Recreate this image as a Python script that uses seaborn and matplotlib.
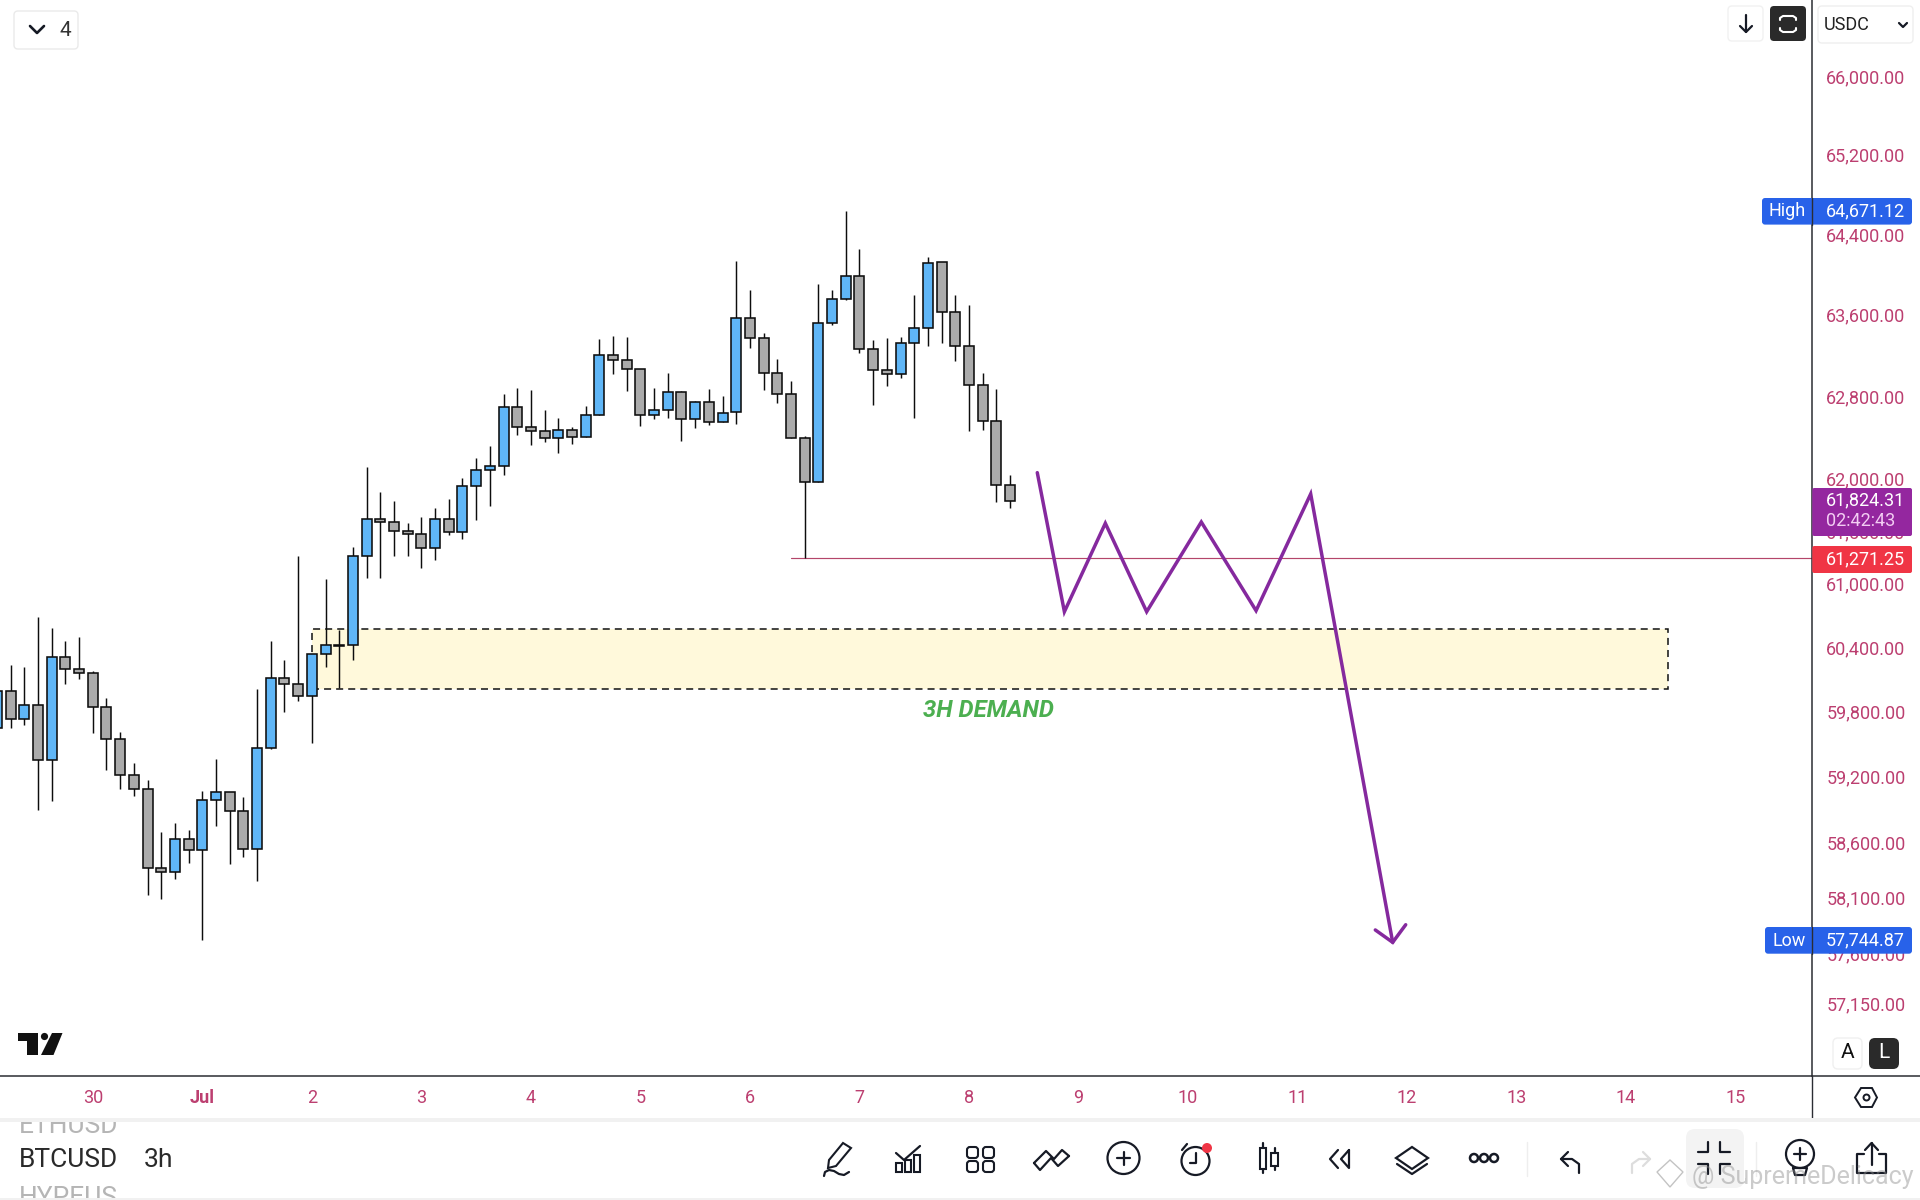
import numpy as np
import pandas as pd
import matplotlib
matplotlib.use("Agg")
import matplotlib.pyplot as plt
import seaborn as sns
from matplotlib.patches import Circle, FancyBboxPatch, Polygon, Rectangle
from matplotlib.ticker import NullLocator
from matplotlib.transforms import ScaledTranslation

# 3h candles
high = [60021, 60267, 60248, 60717, 60614, 60492, 60529, 60210, 59959, 59640, 59357, 59200, 58724, 58806, 58743,
        59099, 59394, 59087, 59044, 60042, 60492, 60313, 61295, 60366, 61077, 60595, 61381, 62151, 61907, 61821,
        61607, 61667, 61753, 61837, 62042, 62232, 62351, 62856, 62915, 62895, 62700, 62622, 62535, 62739, 63395,
        63424, 63415, 63097, 62915, 63061, 62885, 62788, 62905, 62836, 64167, 63879, 63454, 63198, 62983, 62447,
        63938, 63879, 64671.12, 64287, 63385, 63405, 63415, 63829, 64204, 64154, 63829, 63730, 63061, 62905, 62071]
body_top = [60021, 60021, 59890, 59890, 60338, 60338, 60226, 60189, 59872, 59575, 59243, 59115, 58394, 58658, 58658,
            59014, 59087, 59087, 58913, 59492, 60142, 60142, 60086, 60366, 60451, 60451, 61292, 61645, 61645, 61616,
            61530, 61502, 61645, 61645, 61962, 62116, 62154, 62726, 62726, 62532, 62493, 62503, 62503, 62648, 63235,
            63235, 63186, 63097, 62697, 62873, 62873, 62775, 62775, 62668, 63599, 63599, 63402, 63058, 62853, 62425,
            63550, 63787, 64015, 64015, 63294, 63088, 63353, 63500, 64144, 64154, 63658, 63323, 62941, 62590, 61971]
body_bottom = [59677, 59760, 59760, 59381, 59381, 60226, 60189, 59872, 59575, 59243, 59115, 58400, 58358, 58358, 58557,
               58557, 59014, 58913, 58567, 58567, 59492, 60086, 59974, 59974, 60366, 60448, 60451, 61292, 61616, 61530,
               61502, 61368, 61368, 61521, 61521, 61962, 62116, 62154, 62532, 62493, 62425, 62425, 62435, 62435, 62648,
               63186, 63097, 62648, 62648, 62697, 62610, 62610, 62580, 62580, 62678, 63402, 63058, 62853, 62425, 62000,
               62000, 63550, 63787, 63294, 63088, 63048, 63048, 63353, 63500, 63658, 63323, 62941, 62590, 61971, 61818]
low = [59677, 59680, 59708, 58925, 59008, 60089, 60136, 59634, 59292, 59118, 59053, 58153, 58117, 58300, 58442,
       57744.87, 58779, 58436, 58497, 58282, 59483, 59828, 59931, 59541, 60248, 60049, 60310, 61089, 61089, 61298,
       61298, 61184, 61260, 61498, 61457, 61641, 61775, 62071, 62457, 62360, 62392, 62280, 62370, 62435, 62648,
       63051, 62885, 62544, 62612, 62622, 62399, 62525, 62554, 62580, 62564, 63306, 62895, 62768, 62425, 61271.25,
       62000, 63530, 63777, 63257, 62749, 62934, 63012, 62622, 63326, 63356, 63179, 62496, 62506, 61811, 61753]
direction = list("ugugu" "gggggggg" "ug" "uu" "gg" "uu" "gg" "uuuuu" "gggg" "u" "g" "uuuu" "ggg" "u" "g" "uu" "ggg"
                 "uu" "g" "u" "g" "uu" "ggggg" "uuu" "ggg" "uuu" "gggggg")

# drawing on the chart
path_x = [75.99, 77.97, 80.96, 83.98, 87.97, 91.97, 95.96, 101.95]
path_price = [62093, 60767, 61607, 60767, 61619, 60777, 61888, 57727]
head_x = [100.68, 101.95, 102.9]
head_price = [57838, 57727, 57885]
zone_start, zone_end = 23, 122.04
zone_low, zone_high = 60040, 60601
zone_label = "3H DEMAND"
zone_label_x, zone_label_price = 72.4, 59846
last_low_price = 61271.25
last_low_start = 58.03

# axes
price_ticks = [57150, 57600, 58100, 58600, 59200, 59800, 60400, 61000, 61500, 62000, 62800, 63600, 64400, 65200, 66000]
day_labels = ["30", "Jul", "2", "3", "4", "5", "6", "7", "8", "9", "10", "11", "12", "13", "14", "15"]
day_ticks = [7 + 8 * n for n in range(len(day_labels))]
price_limits = (56539, 66820)
bar_limits = (0.222, 132.6)

PINK = "#BC3F70"
BLUE = "#5FB6F7"
GREY = "#ABABAB"
INK = "#161A25"
PURPLE = "#85299E"
RULE = "#2B2D33"

sns.set_theme(style="white")
plt.rcParams["font.family"] = ["Roboto", "DejaVu Sans"]

df = pd.DataFrame({"high": high, "top": body_top, "bottom": body_bottom, "low": low, "dir": direction})
df["bar"] = np.arange(len(df))

W, H = 1920, 1200
PANE_R, PANE_B = 1812.3, 1076.3
fig = plt.figure(figsize=(W / 100, H / 100), dpi=100, facecolor="white")
ax = fig.add_axes([0, 1 - PANE_B / H, PANE_R / W, PANE_B / H])
ax.set_yscale("log")
ax.set_xlim(*bar_limits)
ax.set_ylim(*price_limits)

ax.add_patch(Rectangle((zone_start, zone_low), zone_end - zone_start, zone_high - zone_low,
                       facecolor="#FFF9DB", edgecolor="#111111", lw=1.1, ls=(0, (4.6, 3.3)), zorder=1))
ax.plot([last_low_start, bar_limits[1]], [last_low_price, last_low_price], color="#B4456A", lw=0.85, zorder=2)

ax.vlines(df["bar"], df["low"], df["high"], color="#0D0D0D", lw=1.05, zorder=3)
ax.bar(df["bar"], df["top"] - df["bottom"], bottom=df["bottom"], width=0.73,
       color=[BLUE if d == "u" else GREY for d in df["dir"]], edgecolor="#0D0D0D", linewidth=1.15, zorder=4)

sns.lineplot(x=path_x, y=path_price, sort=False, estimator=None, color=PURPLE, lw=2.5, ax=ax, zorder=5,
             solid_joinstyle="miter")
sns.lineplot(x=head_x, y=head_price, sort=False, estimator=None, color=PURPLE, lw=2.5, ax=ax, zorder=5,
             solid_joinstyle="miter")
ax.text(zone_label_x, zone_label_price, zone_label, color="#4CAF50", fontsize=17.2, fontweight="bold",
        fontstyle="italic", ha="center", va="center", zorder=6)

ax.yaxis.tick_right()
ax.set_yticks(price_ticks)
ax.set_yticklabels([f"{p:,.2f}" for p in price_ticks])
ax.yaxis.set_minor_locator(NullLocator())
ax.set_xticks(day_ticks)
ax.set_xticklabels(day_labels)
ax.tick_params(axis="y", length=0, pad=10, labelsize=13, labelcolor=PINK)
ax.tick_params(axis="x", length=0, pad=9.5, labelsize=13, labelcolor=PINK)
nudge = ScaledTranslation(0, 0.035, fig.dpi_scale_trans)
for lab in ax.get_yticklabels():
    lab.set_transform(lab.get_transform() + nudge)
for lab in ax.get_xticklabels():
    if lab.get_text() == "Jul":
        lab.set_fontweight("bold")
sns.despine(ax=ax, left=True, top=True, right=False, bottom=False)
for side in ("right", "bottom"):
    ax.spines[side].set_color(RULE)
    ax.spines[side].set_linewidth(1.1)

# app chrome around the chart, in screen pixels
ui = fig.add_axes([0, 0, 1, 1], zorder=10)
ui.set_xlim(0, W)
ui.set_ylim(H, 0)
ui.axis("off")
ui.patch.set_alpha(0)


def box(x0, y0, x1, y1, fc, ec="none", r=4, lw=1.0, z=1):
    ui.add_patch(FancyBboxPatch((x0, y0), x1 - x0, y1 - y0, boxstyle=f"round,pad=0,rounding_size={r}",
                                facecolor=fc, edgecolor=ec, lw=lw, zorder=z))


def stroke(xs, ys, color=INK, lw=1.6, z=3):
    ui.plot(xs, ys, color=color, lw=lw, zorder=z, solid_capstyle="round", solid_joinstyle="round")


def label(x, y, s, size=13, color="white", ha="left", **kw):
    return ui.text(x, y, s, fontsize=size, color=color, ha=ha, va="center", zorder=kw.pop("z", 4), **kw)


def ring(x, y, r, lw=1.6, fc="none", ec=INK):
    ui.add_patch(Circle((x, y), r, facecolor=fc, edgecolor=ec, lw=lw, zorder=3))


def cropped(x, base, s, clip):
    t = ui.text(x, base, s, fontsize=19, color="#B5B5B5", va="baseline", zorder=3, clip_on=True)
    t.set_clip_path(Rectangle(clip[:2], clip[2], clip[3], transform=ui.transData))


# axis lines carried on past the pane
stroke([PANE_R, 1920], [PANE_B, PANE_B], color=RULE, lw=1.1, z=2)
stroke([PANE_R, PANE_R], [PANE_B, 1118], color=RULE, lw=1.0, z=2)
ui.add_patch(Rectangle((0, 1118), W, 4, facecolor="#F1F1F1", edgecolor="none", zorder=2))
ui.add_patch(Rectangle((0, 1198), W, 2, facecolor="#F1F1F1", edgecolor="none", zorder=2))

# top left
box(14, 11, 78, 49, "white", "#EAEAEA")
stroke([30, 37, 44], [26, 33, 26], lw=1.9)
label(65, 30, "4", size=15, color="#333333", ha="center")

# top right
box(1728, 6, 1763, 41, "white", "#F1F1F1")
stroke([1746, 1746], [15, 32])
stroke([1740, 1746, 1752], [26, 32, 26])
box(1770, 6, 1806, 41, "#2A2A2A")
stroke([1780, 1780, 1783, 1793, 1796, 1796], [20, 18, 16, 16, 18, 20], color="white", lw=1.5)
stroke([1780, 1780, 1783, 1793, 1796, 1796], [28, 30, 32, 32, 30, 28], color="white", lw=1.5)
box(1818, 6, 1913, 43, "white", "#EFEFEF")
label(1824, 25.5, "USDC", size=13, color="#222222")
stroke([1899, 1903, 1907], [23, 27, 23], lw=1.6)

# price flags
box(1762, 198, 1912, 224.6, "#2862E9", r=3)
label(1769, 211.5, "High")
label(1826, 211, "64,671.12")
box(1765, 927, 1912, 953.7, "#2862E9", r=3)
label(1772, 940.5, "Low")
label(1826, 940, "57,744.87")
stroke([PANE_R, PANE_R], [198, 224.6], color=RULE, lw=1.0, z=3)
stroke([PANE_R, PANE_R], [927, 953.7], color=RULE, lw=1.0, z=3)
box(1812.3, 488, 1912, 536, "#94279F", r=2)
label(1826, 500, "61,824.31")
label(1826, 521, "02:42:43", color="#F3CDF3")
box(1812.3, 546, 1912, 573, "#F03545", r=2)
label(1826, 559.5, "61,271.25")

# logo
ui.add_patch(Polygon([(18, 1033), (38, 1033), (38, 1055), (27, 1055), (27, 1041), (18, 1041)], fc="#111111", ec="none", zorder=3))
ui.add_patch(Circle((44.5, 1036.5), 3.6, fc="#111111", ec="none", zorder=3))
ui.add_patch(Polygon([(52, 1033), (62.5, 1033), (53.5, 1055), (41, 1055)], fc="#111111", ec="none", zorder=3))

# auto / log buttons, settings hexagon
box(1833, 1038, 1862, 1069, "white", "#F0F0F0", r=5)
label(1847.5, 1053, "A", size=15, color="#111111", ha="center")
box(1869, 1038, 1899, 1069, "#2A2A2A", r=6)
label(1884, 1053, "L", size=15, ha="center")
ui.add_patch(Polygon([(1861, 1088), (1872, 1088), (1877, 1097.5), (1872, 1107), (1861, 1107), (1855, 1097.5)],
                     fc="none", ec=INK, lw=1.4, zorder=3))
ring(1866.5, 1097.5, 3, lw=1.4)

# symbol picker
cropped(19, 1133, "ETHUSD", (0, 1122, 130, 11))
label(19, 1160, "BTCUSD", size=19, color="#2A2A2A")
label(144, 1160, "3h", size=19, color="#2A2A2A")
cropped(19, 1205, "HYPEUS", (0, 1184, 130, 14))

# bottom toolbar icons
ui.add_patch(Polygon([(843, 1143), (851, 1148), (836, 1166), (828, 1168), (829, 1160)], fc="none", ec=INK, lw=1.5, zorder=3))
stroke([824, 825, 829, 834, 839, 844, 849], [1176, 1172, 1170, 1171, 1174, 1175, 1172])

stroke([896, 904, 912, 920], [1153, 1160, 1153, 1146])
for bx, by in [(896, 1163), (905, 1160), (914, 1155)]:
    ui.add_patch(Rectangle((bx, by), 6, 1172 - by, fc="none", ec=INK, lw=1.5, zorder=3))

for gx, gy in [(967, 1147), (983, 1147), (967, 1161), (983, 1161)]:
    box(gx, gy, gx + 11, gy + 11, "none", INK, r=3, lw=1.5, z=3)

stroke([1034, 1046, 1054, 1062, 1069], [1163, 1151, 1159, 1150, 1156])
stroke([1034, 1040, 1051, 1058, 1069], [1163, 1170, 1158, 1166, 1156])

ring(1123.5, 1158, 16)
stroke([1117, 1130], [1158, 1158])
stroke([1123.5, 1123.5], [1151.5, 1164.5])

ring(1195.5, 1161, 14)
stroke([1195.5, 1195.5, 1190], [1153, 1163, 1163])
stroke([1182, 1187], [1150, 1144])
ui.add_patch(Circle((1207, 1148), 5, fc="#F03545", ec="none", zorder=4))

ui.add_patch(Rectangle((1260, 1148), 6, 21, fc="none", ec=INK, lw=1.5, zorder=3))
stroke([1263, 1263], [1143, 1148])
stroke([1263, 1263], [1169, 1173])
ui.add_patch(Rectangle((1271, 1153), 7, 13, fc="none", ec=INK, lw=1.5, zorder=3))
stroke([1274.5, 1274.5], [1148, 1153])
stroke([1274.5, 1274.5], [1166, 1170])

stroke([1338, 1330, 1338], [1150, 1159, 1168])
stroke([1349, 1341, 1349, 1349], [1150, 1159, 1168, 1150])

ui.add_patch(Polygon([(1412, 1147), (1428, 1158), (1412, 1169), (1396, 1158)], fc="none", ec=INK, lw=1.6, zorder=3))
stroke([1397, 1412, 1427], [1164, 1174, 1164])

for dx in (1474, 1484, 1494):
    ring(dx, 1158, 4, lw=1.8)
stroke([1527, 1527], [1142, 1176], color="#EEEEEE", lw=1.0)

stroke([1568, 1561, 1568], [1152, 1159, 1166])
stroke([1561, 1572, 1579, 1579], [1159, 1159, 1164, 1173])
stroke([1643, 1650, 1643], [1152, 1159, 1166], color="#DDDDDD")
stroke([1650, 1639, 1632, 1632], [1159, 1159, 1164, 1173], color="#DDDDDD")

box(1686, 1129, 1744, 1188, "#F3F3F3", r=9)
stroke([1698, 1708, 1708], [1152, 1152, 1142])
stroke([1720, 1720, 1730], [1142, 1152, 1152])
stroke([1698, 1708, 1708], [1164, 1164, 1174])
stroke([1720, 1720, 1730], [1174, 1164, 1164])
stroke([1756, 1756], [1142, 1176], color="#EEEEEE", lw=1.0)

ring(1800, 1154, 14)
stroke([1794, 1806], [1154, 1154])
stroke([1800, 1800], [1148, 1160])
stroke([1793, 1807, 1805, 1795, 1793], [1168, 1168, 1175, 1175, 1168])

stroke([1864, 1857, 1857, 1886, 1886, 1879], [1154, 1154, 1173, 1173, 1154, 1154])
stroke([1871.5, 1871.5], [1165, 1143])
stroke([1865, 1871.5, 1878], [1150, 1143, 1150])

# watermark
ui.add_patch(Polygon([(1670, 1160), (1683, 1172), (1670, 1187), (1657, 1172)], fc="none", ec="#AAAAAA", lw=1.0, alpha=0.7, zorder=5))
label(1692, 1177, "@ SupremeDelicacy", size=18, color="#8C8C8C", alpha=0.45, z=5)

fig.savefig("out.png", dpi=100)
